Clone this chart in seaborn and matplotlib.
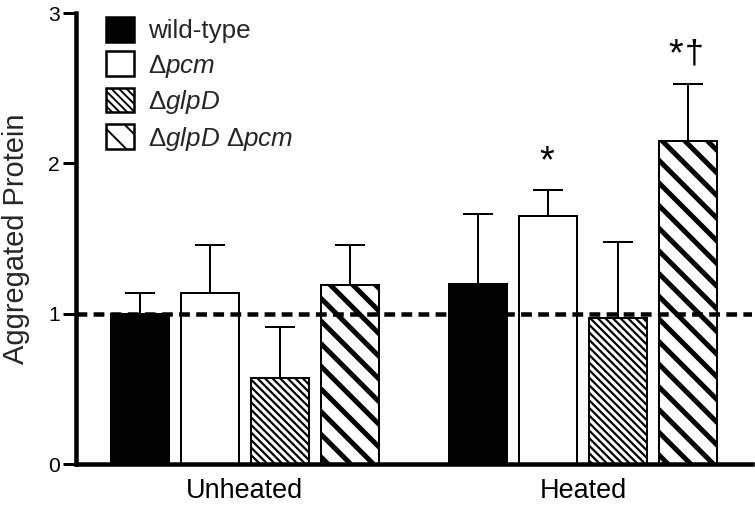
import numpy as np
import pandas as pd
import matplotlib
matplotlib.use("Agg")
import matplotlib.pyplot as plt
import matplotlib.patches as mpatches
import seaborn as sns

# ---- data ----
conditions = ["Unheated", "Heated"]
strains = ["wild-type", "Δpcm", "ΔglpD", "ΔglpD Δpcm"]
legend_labels = ["wild-type", r"Δ$\mathit{pcm}$", r"Δ$\mathit{glpD}$",
                 r"Δ$\mathit{glpD}$ Δ$\mathit{pcm}$"]
unheated_mean = [1.00, 1.14, 0.575, 1.19]
heated_mean = [1.20, 1.65, 0.97, 2.15]
unheated_err = [0.14, 0.32, 0.335, 0.27]
heated_err = [0.46, 0.17, 0.51, 0.38]
baseline_value = 1.0
yticks = [0, 1, 2, 3]
annotations = {("Heated", "Δpcm"): ["*"], ("Heated", "ΔglpD Δpcm"): ["*", "†"]}

DPI = 136
def px(v):
    return v * 72.0 / DPI

sns.set_theme(style="white")
plt.rcParams["font.family"] = ["Liberation Sans", "DejaVu Sans"]
plt.rcParams["mathtext.fontset"] = "custom"
plt.rcParams["mathtext.rm"] = "Liberation Sans"
plt.rcParams["mathtext.it"] = "Liberation Sans:italic"

rows = []
for c, means, errs in [("Unheated", unheated_mean, unheated_err),
                       ("Heated", heated_mean, heated_err)]:
    for s, m, e in zip(strains, means, errs):
        rows.append({"condition": c, "strain": s, "value": m, "err": e})
df = pd.DataFrame(rows)

fills = {"wild-type": "black", "Δpcm": "white", "ΔglpD": "white", "ΔglpD Δpcm": "white"}
hatches = {"wild-type": None, "Δpcm": None, "ΔglpD": "\\" * 6, "ΔglpD Δpcm": "\\" * 2}
hatch_lw = {"wild-type": px(2), "Δpcm": px(2), "ΔglpD": px(2.2), "ΔglpD Δpcm": px(5)}

fig = plt.figure(figsize=(755 / DPI, 505 / DPI), dpi=DPI)
ax = fig.add_axes([76 / 755, 1 - 464 / 505, (752 - 76) / 755, (464 - 13) / 505])

sns.barplot(data=df, x="condition", y="value", hue="strain", order=conditions,
            hue_order=strains, palette=fills, saturation=1, edgecolor="black",
            linewidth=px(2), width=0.826, gap=0.17, errorbar=None, legend=False,
            ax=ax, zorder=2)

err_lookup = {(r.condition, r.strain): r.err for r in df.itertuples()}
for strain, cont in zip(strains, ax.containers):
    for bar in cont:
        xc = bar.get_x() + bar.get_width() / 2
        cond = conditions[int(round(xc))]
        h = bar.get_height()
        if hatches[strain]:
            bar.set_hatch(hatches[strain])
            if hasattr(bar, "set_hatch_linewidth"):
                bar.set_hatch_linewidth(hatch_lw[strain])
        e = err_lookup[(cond, strain)]
        ax.errorbar([xc], [h], yerr=[[0], [e]], fmt="none", ecolor="black",
                    elinewidth=px(2), capsize=px(15), capthick=px(2), zorder=1)
        marks = annotations.get((cond, strain))
        if marks:
            top = h + e
            if len(marks) == 1:
                ax.annotate(marks[0], (xc, top), xytext=(px(-1), px(10)),
                            textcoords="offset points", ha="center", va="bottom",
                            fontsize=px(38), color="black")
            else:
                ax.annotate(marks[0], (xc, top), xytext=(px(-12), px(10)),
                            textcoords="offset points", ha="center", va="bottom",
                            fontsize=px(38), color="black")
                ax.annotate(marks[1], (xc, top), xytext=(px(6), px(14)),
                            textcoords="offset points", ha="center", va="bottom",
                            fontsize=px(34), color="black")

ax.axhline(baseline_value, color="black", lw=px(4.5), ls=(0, (2.4, 1.4)), zorder=5)

ax.set_xlim(-0.5, 1.5)
ax.set_ylim(0, 3)
ax.set_yticks(yticks)
ax.set_yticklabels([str(t) for t in yticks])
ax.set_xlabel("")
ax.set_ylabel("Aggregated Protein", fontsize=px(29), labelpad=px(18))
for side in ["top", "right"]:
    ax.spines[side].set_visible(False)
for side in ["left", "bottom"]:
    ax.spines[side].set_color("black")
    ax.spines[side].set_linewidth(px(4.5))
ax.tick_params(axis="y", which="both", left=True, direction="out", length=px(13),
               width=px(3), pad=px(3), labelsize=px(21), colors="black")
ax.tick_params(axis="x", which="both", bottom=False, length=0, pad=px(14),
               labelsize=px(27), colors="black")
ax.grid(False)

handles = []
for s in strains:
    p = mpatches.Patch(facecolor=fills[s], edgecolor="black", linewidth=px(2.5),
                       hatch=hatches[s])
    if hatches[s] and hasattr(p, "set_hatch_linewidth"):
        p.set_hatch_linewidth(hatch_lw[s])
    handles.append(p)
fs_px = 26
leg = fig.legend(handles, legend_labels, loc="upper left",
                 bbox_to_anchor=(106 / 755, 1 - 17 / 505), frameon=False,
                 fontsize=px(fs_px), handlelength=28 / fs_px, handleheight=28 / fs_px,
                 handletextpad=14 / fs_px, labelspacing=0.32, borderpad=0,
                 borderaxespad=0)

fig.savefig("out.png", dpi=DPI)
